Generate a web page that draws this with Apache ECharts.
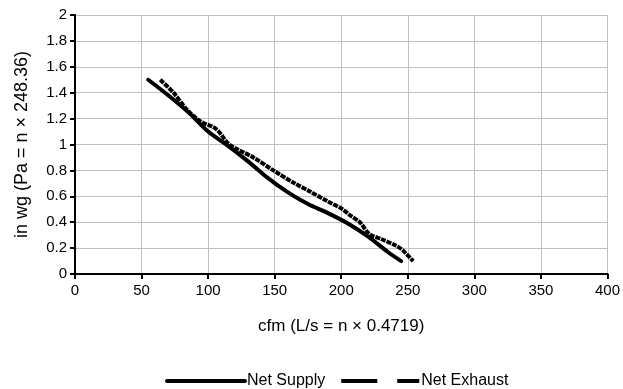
<!DOCTYPE html>
<html>
<head>
<meta charset="utf-8">
<script src="https://cdn.jsdelivr.net/npm/echarts@6/dist/echarts.min.js"></script>
<style>
  html, body { margin: 0; padding: 0; background: #fff; }
  #chart { width: 623px; height: 389px; }
</style>
</head>
<body>
<div id="chart"></div>
<script>
// Fan curves: pressure (in wg) against airflow (cfm)
const seriesNames = ['Net Supply', 'Net Exhaust'];
const supplyCfm = [55, 70, 85, 100, 115, 130, 145, 160, 175, 190, 205, 220, 235, 245];
const supplyInWg = [1.5, 1.38, 1.25, 1.1, 0.99, 0.87, 0.74, 0.63, 0.54, 0.47, 0.39, 0.29, 0.17, 0.1];
const exhaustCfm = [64, 74, 84, 94, 106, 116, 134, 149, 165, 176, 190, 201, 207, 214, 221, 230, 241, 246, 254];
const exhaustInWg = [1.5, 1.4, 1.27, 1.18, 1.12, 1.0, 0.9, 0.8, 0.7, 0.64, 0.56, 0.5, 0.45, 0.4, 0.31, 0.27, 0.22, 0.185, 0.1];
const xTicks = [0, 50, 100, 150, 200, 250, 300, 350, 400];
const yTicks = [0, 0.2, 0.4, 0.6, 0.8, 1, 1.2, 1.4, 1.6, 1.8, 2];

const pair = (xs, ys) => xs.map((x, i) => [x, ys[i]]);
const font = 'Liberation Sans, Arial, sans-serif';

const chart = echarts.init(document.getElementById('chart'), null, { renderer: 'canvas' });
chart.setOption({
  animation: false,
  backgroundColor: '#ffffff',
  grid: { left: 75, right: 15, top: 15, bottom: 115, containLabel: false },
  xAxis: {
    type: 'value',
    min: xTicks[0], max: xTicks[xTicks.length - 1], interval: 50,
    name: 'cfm (L/s = n × 0.4719)',
    nameLocation: 'middle', nameGap: 44,
    nameTextStyle: { color: '#000', fontSize: 17, fontFamily: font },
    axisLine: { show: true, onZero: false, lineStyle: { color: '#000', width: 2 } },
    axisTick: { show: true, length: 5, lineStyle: { color: '#000', width: 2 } },
    axisLabel: { color: '#000', fontSize: 15, fontFamily: font, margin: 9 },
    splitLine: { show: true, lineStyle: { color: '#c0c0c0', width: 1 } }
  },
  yAxis: {
    type: 'value',
    min: yTicks[0], max: yTicks[yTicks.length - 1], interval: 0.2,
    name: 'in wg (Pa = n × 248.36)',
    nameLocation: 'middle', nameGap: 44, nameRotate: 90,
    nameTextStyle: { color: '#000', fontSize: 18, fontFamily: font },
    axisLine: { show: true, onZero: false, lineStyle: { color: '#000', width: 2 } },
    axisTick: { show: true, length: 5, lineStyle: { color: '#000', width: 2 } },
    axisLabel: { color: '#000', fontSize: 15, fontFamily: font, margin: 8,
      formatter: v => String(Math.round(v * 10) / 10) },
    splitLine: { show: true, lineStyle: { color: '#c0c0c0', width: 1 } }
  },
  legend: {
    left: 165, bottom: 0, padding: 0,
    itemWidth: 78, itemHeight: 12, itemGap: 14,
    itemStyle: { opacity: 0 },
    textStyle: { color: '#000', fontSize: 16, fontFamily: font, padding: [0, 0, 0, -3] },
    data: [
      { name: seriesNames[0], lineStyle: { width: 4, type: 'solid' } },
      { name: seriesNames[1], lineStyle: { width: 4, type: [36, 20] } }
    ]
  },
  series: [
    {
      name: seriesNames[0], type: 'line', data: pair(supplyCfm, supplyInWg),
      symbol: 'none', smooth: 0.3,
      lineStyle: { color: '#000', width: 4, cap: 'round' },
      itemStyle: { color: '#000' }
    },
    {
      name: seriesNames[1], type: 'line', data: pair(exhaustCfm, exhaustInWg),
      symbol: 'none', smooth: 0.3,
      lineStyle: { color: '#000', width: 4, type: [5, 1], cap: 'butt' },
      itemStyle: { color: '#000' }
    }
  ]
});
</script>
</body>
</html>
